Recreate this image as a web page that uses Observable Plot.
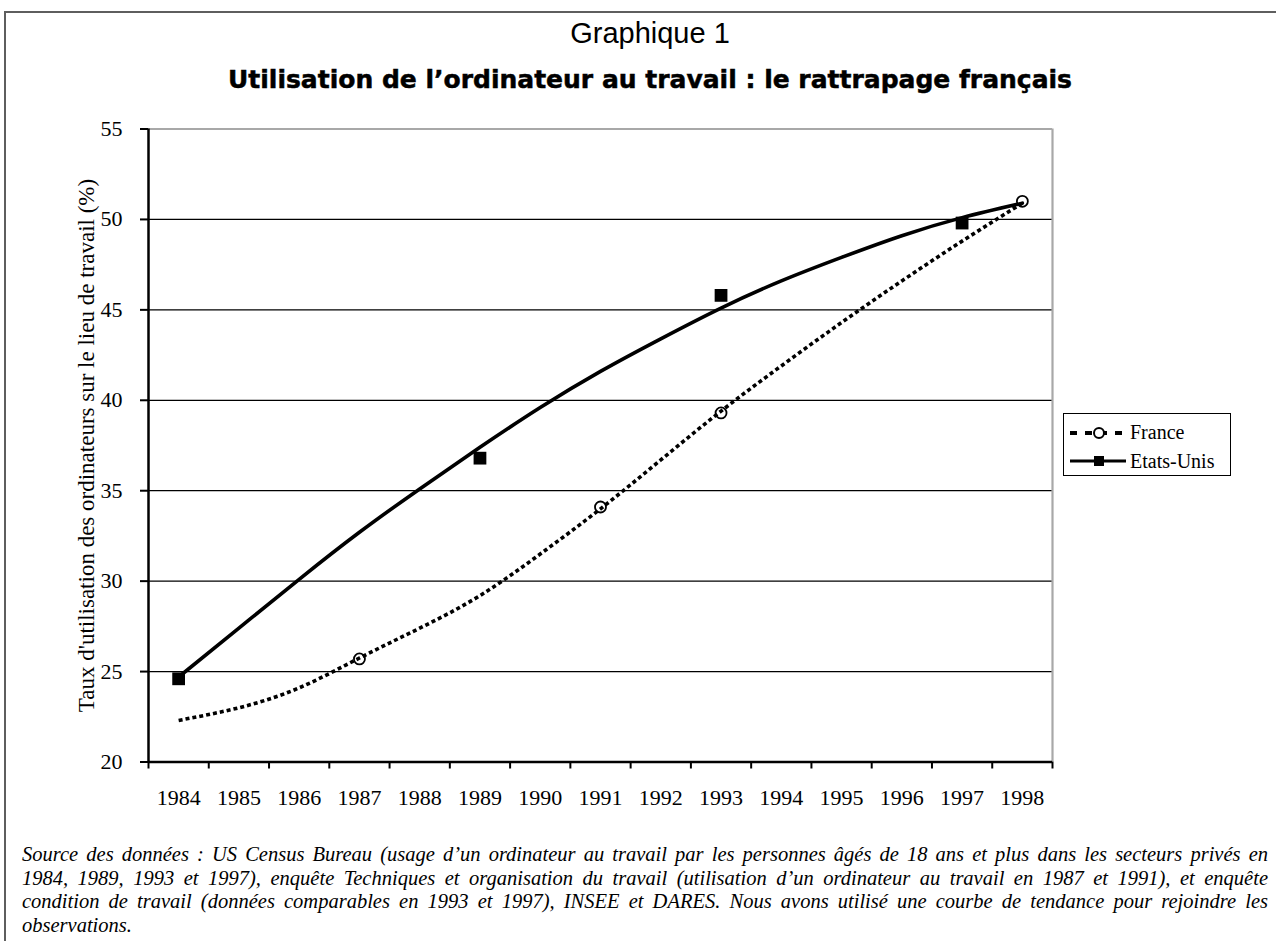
<!DOCTYPE html>
<html>
<head>
<meta charset="utf-8">
<script src="https://cdn.jsdelivr.net/npm/d3@7"></script>
<script src="https://cdn.jsdelivr.net/npm/@observablehq/plot@0.6"></script>
<style>
  html, body { margin: 0; padding: 0; background: #fff; }
  body { width: 1276px; height: 941px; position: relative; overflow: hidden; }
  #frame { position: absolute; left: 4px; top: 11px; width: 1400px; height: 1100px;
           border-top: 2px solid #5e5e5e; border-left: 2px solid #5e5e5e; }
  #chart { position: absolute; left: 0; top: 0; }
  #chart svg text { font-family: "Liberation Serif", "Times New Roman", serif; }
  .title { position: absolute; left: 0; width: 1300px; text-align: center; white-space: nowrap; }
  #t1 { top: 19px; font: 29px/29px "Liberation Sans", Arial, sans-serif; }
  #t2 { top: 67px; font: bold 25px/25px "DejaVu Sans", "Liberation Sans", sans-serif; -webkit-text-stroke: 0.5px #000; }
  #legend { position: absolute; left: 1063px; top: 413px; width: 168px; height: 63px; box-sizing: border-box;
            border: 1.6px solid #000; background: #fff; font: 20px "Liberation Serif", "Times New Roman", serif; }
  #legend .row { position: absolute; left: 0; height: 28px; width: 166px; }
  #legend svg { position: absolute; left: 0; top: 0; }
  #legend span { position: absolute; left: 66px; top: 2px; line-height: 24px; }
  #note { position: absolute; left: 22px; top: 843px; width: 1246px;
          font: italic 20.5px/23.5px "Liberation Serif", "Times New Roman", serif; }
  #note .ln { text-align: justify; text-align-last: justify; white-space: nowrap; }
  #note .ln.last { text-align-last: left; }
</style>
</head>
<body>
<div id="frame"></div>
<div id="chart"></div>
<div class="title" id="t1">Graphique 1</div>
<div class="title" id="t2">Utilisation de l’ordinateur au travail : le rattrapage français</div>
<div id="legend">
  <div class="row" style="top:4px">
    <svg width="64" height="28"><line x1="6" x2="62" y1="15" y2="15" stroke="#000" stroke-width="4" stroke-dasharray="7,8"/><circle cx="35" cy="15" r="5" fill="#fff" stroke="#000" stroke-width="2"/></svg>
    <span>France</span>
  </div>
  <div class="row" style="top:33px">
    <svg width="64" height="28"><line x1="6" x2="62" y1="14" y2="14" stroke="#000" stroke-width="3"/><rect x="30" y="9" width="10" height="10" fill="#000"/></svg>
    <span>Etats-Unis</span>
  </div>
</div>
<div id="note">
  <div class="ln">Source des données : US Census Bureau (usage d’un ordinateur au travail par les personnes âgés de 18 ans et plus dans les secteurs privés en</div>
  <div class="ln">1984, 1989, 1993 et 1997), enquête Techniques et organisation du travail (utilisation d’un ordinateur au travail en 1987 et 1991), et enquête</div>
  <div class="ln">condition de travail (données comparables en 1993 et 1997), INSEE et DARES. Nous avons utilisé une courbe de tendance pour rejoindre les</div>
  <div class="ln last">observations.</div>
</div>
<script>
// ---- data ----
const years = [1984, 1985, 1986, 1987, 1988, 1989, 1990, 1991, 1992, 1993, 1994, 1995, 1996, 1997, 1998];
const yTicks = [20, 25, 30, 35, 40, 45, 50, 55];
const gridTicks = [25, 30, 35, 40, 45, 50];
const usYears = [1984, 1989, 1993, 1997];
const usValues = [24.6, 36.8, 45.8, 49.8];
const frYears = [1987, 1991, 1993, 1998];
const frValues = [25.7, 34.1, 39.3, 51.0];
// trend curves at each year
const usTrend = [24.7, 27.4, 30.1, 32.7, 35.1, 37.4, 39.6, 41.6, 43.4, 45.1, 46.6, 47.9, 49.1, 50.1, 50.9];
const frTrend = [22.3, 23.0, 24.1, 25.75, 27.4, 29.2, 31.5, 34.0, 36.7, 39.4, 41.9, 44.3, 46.6, 48.8, 50.9];
const yLabel = "Taux d'utilisation des ordinateurs sur le lieu de travail (%)";

// ---- derived tables ----
const usPoints = usYears.map((year, i) => ({year, value: usValues[i]}));
const frPoints = frYears.map((year, i) => ({year, value: frValues[i]}));
const usLine = years.map((year, i) => ({year, value: usTrend[i]}));
const frLine = years.map((year, i) => ({year, value: frTrend[i]}));
const bounds = [years[0] - 0.5, ...years.map(y => y + 0.5)];
const serif = "Liberation Serif";

const chart = Plot.plot({
  width: 1276,
  height: 830,
  marginLeft: 148,
  marginRight: 224,
  marginTop: 128.5,
  marginBottom: 68.5,
  x: {domain: [bounds[0], bounds[bounds.length - 1]], label: null},
  y: {domain: [20, 55], label: null},
  style: {fontFamily: serif, fontSize: "22px", color: "#000", background: "transparent", overflow: "visible"},
  marks: [
    Plot.gridY(gridTicks, {stroke: "#000", strokeOpacity: 1, strokeWidth: 1.2}),
    Plot.ruleY([55], {stroke: "#a8a8a8", strokeWidth: 2.2}),
    Plot.ruleX([bounds[bounds.length - 1]], {stroke: "#a8a8a8", strokeWidth: 2.2}),
    Plot.axisY(yTicks, {tickSize: 8, tickPadding: 18, strokeWidth: 2, fontSize: 22, fontFamily: serif, label: null}),
    Plot.axisY(yTicks, {tickSize: 0, tickFormat: () => "", fontSize: 23, fontFamily: serif,
      label: yLabel, labelAnchor: "center", labelOffset: 71, labelArrow: "none"}),
    Plot.axisX(bounds, {tickSize: 7, strokeWidth: 2, tickFormat: () => "", label: null}),
    Plot.axisX(years, {tickSize: 0, tickPadding: 27, fontSize: 22, fontFamily: serif, tickFormat: d => String(d), label: null}),
    Plot.ruleX([bounds[0]], {stroke: "#000", strokeWidth: 2.5}),
    Plot.ruleY([20], {stroke: "#000", strokeWidth: 2.5}),
    Plot.line(frLine, {x: "year", y: "value", curve: "natural", stroke: "#000", strokeWidth: 3.6, strokeDasharray: "4 3", strokeLinecap: "butt"}),
    Plot.line(usLine, {x: "year", y: "value", curve: "natural", stroke: "#000", strokeWidth: 3.6}),
    Plot.dot(frPoints, {x: "year", y: "value", r: 5.5, stroke: "#000", strokeWidth: 1.8, fill: "none"}),
    Plot.dot(usPoints, {x: "year", y: "value", symbol: "square", r: 7.2, fill: "#000", stroke: "none"})
  ]
});
document.getElementById("chart").appendChild(chart);
</script>
</body>
</html>
